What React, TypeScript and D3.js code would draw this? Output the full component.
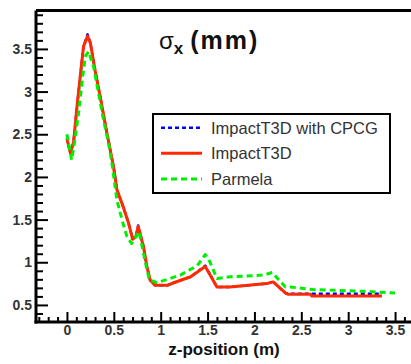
import React, { useEffect, useRef } from 'react';
import * as d3 from 'd3';

// z-position (m) and sigma_x (mm)
const cpcgZ = [0, 0.036, 0.07, 0.107, 0.142, 0.177, 0.22, 0.25, 0.3, 0.355, 0.427, 0.497, 0.533, 0.6, 0.657, 0.7, 0.735, 0.76, 0.817, 0.853, 0.888, 0.94, 1.07, 1.14, 1.32, 1.475, 1.6, 1.74, 2.13, 2.2, 2.33, 2.36, 2.6, 3.36];
const cpcgS = [2.45, 2.28, 2.4, 2.82, 3.18, 3.53, 3.67, 3.57, 3.25, 2.94, 2.51, 2.12, 1.85, 1.65, 1.46, 1.28, 1.3, 1.43, 1.18, 0.95, 0.79, 0.73, 0.73, 0.76, 0.83, 0.96, 0.71, 0.71, 0.75, 0.77, 0.64, 0.63, 0.63, 0.63];

const impactZ = [0, 0.036, 0.07, 0.107, 0.142, 0.177, 0.22, 0.25, 0.3, 0.355, 0.427, 0.497, 0.533, 0.6, 0.657, 0.7, 0.735, 0.76, 0.817, 0.853, 0.888, 0.94, 1.07, 1.14, 1.32, 1.475, 1.6, 1.74, 2.13, 2.2, 2.33, 2.36, 2.6, 2.61, 3.36];
const impactS = [2.45, 2.28, 2.4, 2.82, 3.18, 3.53, 3.65, 3.57, 3.25, 2.94, 2.51, 2.12, 1.85, 1.65, 1.46, 1.27, 1.3, 1.42, 1.18, 0.95, 0.79, 0.73, 0.73, 0.76, 0.83, 0.95, 0.71, 0.71, 0.75, 0.77, 0.64, 0.625, 0.625, 0.605, 0.605];

const parmelaZ = [0, 0.05, 0.08, 0.124, 0.16, 0.195, 0.23, 0.285, 0.337, 0.39, 0.444, 0.48, 0.533, 0.587, 0.64, 0.69, 0.77, 0.81, 0.846, 0.88, 0.94, 0.96, 1.21, 1.39, 1.475, 1.51, 1.6, 1.74, 2.1, 2.19, 2.33, 2.38, 2.63, 3.16, 3.5];
const parmelaS = [2.5, 2.2, 2.4, 2.75, 3.1, 3.41, 3.47, 3.29, 2.98, 2.67, 2.4, 2.16, 1.73, 1.5, 1.3, 1.22, 1.36, 1.14, 0.95, 0.79, 0.77, 0.76, 0.85, 0.96, 1.09, 1.04, 0.81, 0.83, 0.85, 0.88, 0.71, 0.71, 0.68, 0.66, 0.64];

const xMajor = [0, 0.5, 1, 1.5, 2, 2.5, 3, 3.5];
const yMajor = [0.5, 1, 1.5, 2, 2.5, 3, 3.5];

const seriesNames = ['ImpactT3D with CPCG', 'ImpactT3D', 'Parmela'];
const seriesColors = ['#0000ff', '#ff2a00', '#00ee00'];
const seriesDash = ['4,3', null, '6,4'];
const seriesWidth = [2.5, 3, 3];

const App = () => {
  const svgRef = useRef<SVGSVGElement>(null);
  const width = 411;
  const height = 364;

  useEffect(() => {
    const svg = d3.select(svgRef.current);
    svg.selectAll('*').remove();

    const left = 36, top = 10.5, bottom = 322;

    const x = d3.scaleLinear().domain([-0.33, 3.67]).range([left, left + 375]);
    const y = d3.scaleLinear().domain([0.3, 3.95]).range([bottom, top]);

    const font = 'Liberation Sans, Arial, sans-serif';

    // curves
    const data = [
      cpcgZ.map((z, i) => [z, cpcgS[i]]),
      impactZ.map((z, i) => [z, impactS[i]]),
      parmelaZ.map((z, i) => [z, parmelaS[i]]),
    ];
    const line = d3.line<number[]>().x(d => x(d[0])).y(d => y(d[1]));
    // blue under red, green on top
    [0, 1, 2].forEach(k => {
      svg.append('path')
        .attr('d', line(data[k]))
        .attr('fill', 'none')
        .attr('stroke', seriesColors[k])
        .attr('stroke-width', seriesWidth[k])
        .attr('stroke-dasharray', seriesDash[k])
        .attr('stroke-linejoin', 'round');
    });

    // axes
    const yMinor = d3.range(0.4, 3.95, 0.1).map(v => +v.toFixed(1)).filter(v => !yMajor.includes(v));
    const xMinor = d3.range(-0.3, 3.7, 0.1).map(v => +v.toFixed(1)).filter(v => !xMajor.includes(v));

    const yAxis = svg.append('g').attr('transform', `translate(${left},0)`)
      .call(d3.axisLeft(y).tickValues(yMajor).tickSize(-12).tickPadding(4).tickFormat(d3.format('')));
    svg.append('g').attr('transform', `translate(${left},0)`)
      .call(d3.axisLeft(y).tickValues(yMinor).tickSize(-7).tickFormat(() => ''));

    const xAxis = svg.append('g').attr('transform', `translate(0,${bottom})`)
      .call(d3.axisBottom(x).tickValues(xMajor).tickSize(-10).tickPadding(3).tickFormat(d3.format('')));
    svg.append('g').attr('transform', `translate(0,${bottom})`)
      .call(d3.axisBottom(x).tickValues(xMinor).tickSize(-5).tickFormat(() => ''));

    svg.selectAll('.domain').remove();
    svg.selectAll('.tick line').attr('stroke', '#000').attr('stroke-width', 2);
    [yAxis, xAxis].forEach(g => g.selectAll('text')
      .attr('font-family', font).attr('font-size', 14).attr('font-weight', 'bold').attr('fill', '#333'));

    // frame lines
    svg.append('line').attr('x1', left).attr('x2', left).attr('y1', top).attr('y2', bottom + 1.5)
      .attr('stroke', '#000').attr('stroke-width', 3);
    svg.append('line').attr('x1', left).attr('x2', width).attr('y1', top).attr('y2', top)
      .attr('stroke', '#000').attr('stroke-width', 3);
    svg.append('line').attr('x1', left - 1.5).attr('x2', width).attr('y1', bottom).attr('y2', bottom)
      .attr('stroke', '#000').attr('stroke-width', 3);

    // title
    const title = svg.append('text').attr('x', 159).attr('y', 49)
      .attr('font-family', font).attr('fill', '#111');
    title.append('tspan').attr('font-size', 24).text('σ');
    title.append('tspan').attr('font-size', 17).attr('font-weight', 'bold').attr('dy', 5).text('x');
    title.append('tspan').attr('font-size', 25).attr('font-weight', 'bold').attr('dy', -5).attr('dx', 7)
      .attr('letter-spacing', 2).text('(mm)');

    // x label
    svg.append('text').attr('x', 224).attr('y', 355).attr('text-anchor', 'middle')
      .attr('font-family', font).attr('font-size', 17).attr('font-weight', 'bold').attr('fill', '#111')
      .text('z-position (m)');

    // legend
    const lg = svg.append('g');
    lg.append('rect').attr('x', 153).attr('y', 114).attr('width', 237).attr('height', 79)
      .attr('fill', '#fff').attr('stroke', '#000').attr('stroke-width', 2);
    seriesNames.forEach((name, i) => {
      const cy = 127.7 + i * 25.6;
      lg.append('line').attr('x1', 161).attr('x2', 202).attr('y1', cy).attr('y2', cy)
        .attr('stroke', seriesColors[i]).attr('stroke-width', seriesWidth[i])
        .attr('stroke-dasharray', seriesDash[i]);
      lg.append('text').attr('x', 211).attr('y', cy + 6)
        .attr('font-family', font).attr('font-size', 16.5).attr('fill', '#333').text(name);
    });
  }, []);

  return (
    <svg ref={svgRef} width={width} height={height}
      style={{ position: 'absolute', left: 0, top: 0, background: '#fff' }} />
  );
};

export default App;
